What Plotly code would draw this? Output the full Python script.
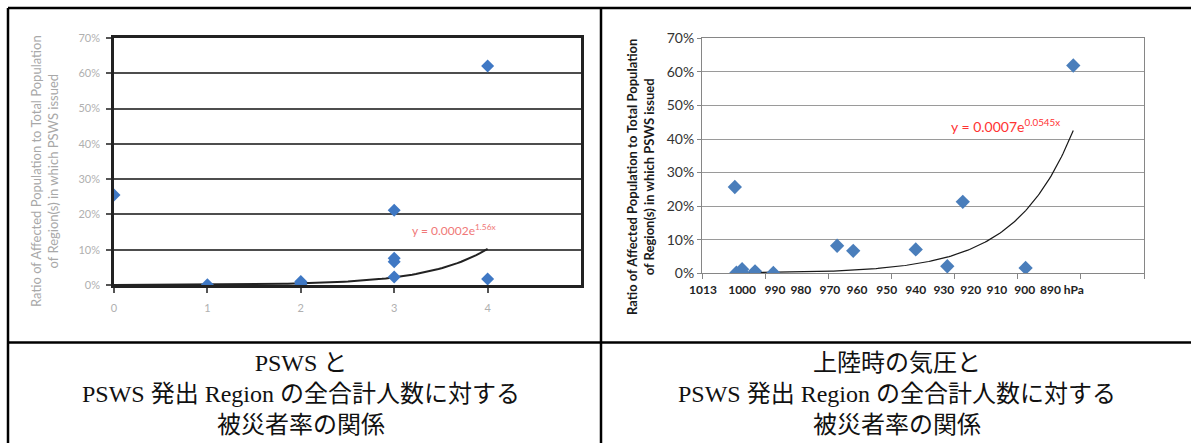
import numpy as np
import plotly.graph_objects as go

W, H = 1191, 443

# ---------------- data ----------------
# Left chart: PSWS level vs ratio of affected population
psws_level = [0, 1, 2, 2, 2, 3, 3, 3, 3, 4, 4]
psws_ratio = [0.255, 0.001, 0.010, 0.005, 0.002, 0.212, 0.076, 0.066, 0.023, 0.621, 0.017]
left_fit_a, left_fit_b = 0.0002, 1.56
left_fit_label = "y = 0.0002e<sup>1.56x</sup>"
left_xticks = [0, 1, 2, 3, 4]
left_yticks = [0, 0.1, 0.2, 0.3, 0.4, 0.5, 0.6, 0.7]

# Right chart: landfall pressure (hPa) vs ratio
pressure_hpa = [1002.6, 1002.1, 1000.3, 1000.1, 996.2, 990.4, 970.2, 965.1, 945.3, 935.3, 930.4, 910.5, 895.4]
pressure_ratio = [0.257, 0.002, 0.012, 0.001, 0.006, 0.001, 0.082, 0.067, 0.071, 0.021, 0.213, 0.016, 0.619]
right_fit_a, right_fit_b = 0.0007, 0.0545
right_fit_label = "y = 0.0007e<sup>0.0545x</sup>"
base_pressure = 1013
right_label_text = ["1013", "1000", "990", "980", "970", "960", "950", "940", "930", "920", "910", "900", "890 hPa"]
right_label_pos = [0.3, 12.7, 23.1, 31.3, 40.5, 49.1, 58.5, 67.7, 76.6, 85.1, 93.4, 102.2, 114.0]

caption_left = "PSWS と<br>PSWS 発出 Region の全合計人数に対する<br>被災者率の関係"
caption_right = "上陸時の気圧と<br>PSWS 発出 Region の全合計人数に対する<br>被災者率の関係"
ytitle = "Ratio of Affected Population to Total Population<br>of Region(s) in which PSWS issued"

# ---------------- helpers ----------------
def px(x):
    return x / W

def py(y):
    return 1 - y / H

fig = go.Figure()

# Left chart
xl = np.linspace(min(psws_level), max(psws_level), 100)
fig.add_trace(go.Scatter(x=xl, y=left_fit_a * np.exp(left_fit_b * xl), mode="lines",
                         line=dict(color="#222222", width=2), xaxis="x", yaxis="y",
                         showlegend=False, hoverinfo="skip"))
fig.add_trace(go.Scatter(x=psws_level, y=psws_ratio, mode="markers",
                         marker=dict(symbol="diamond", size=10, color="#3f78c4"),
                         xaxis="x", yaxis="y", showlegend=False))

# Right chart
x_drop = [base_pressure - p for p in pressure_hpa]
xr = np.linspace(min(x_drop), max(x_drop), 200)
fig.add_trace(go.Scatter(x=xr, y=right_fit_a * np.exp(right_fit_b * xr), mode="lines",
                         line=dict(color="#1a1a1a", width=1.2), xaxis="x2", yaxis="y2",
                         showlegend=False, hoverinfo="skip"))
fig.add_trace(go.Scatter(x=x_drop, y=pressure_ratio, mode="markers",
                         marker=dict(symbol="diamond", size=11, color="#4a7ebb"),
                         xaxis="x2", yaxis="y2", showlegend=False))
# invisible trace to activate the label axis
fig.add_trace(go.Scatter(x=[None], y=[None], xaxis="x3", yaxis="y2", showlegend=False))

left_font = dict(family="Lato, Arial", size=11, color="#b0b0b0")
right_font = dict(family="Lato, Arial", size=14, color="#333333")

fig.update_layout(
    width=W, height=H,
    margin=dict(l=0, r=0, t=0, b=0, autoexpand=False),
    paper_bgcolor="white", plot_bgcolor="white",
    showlegend=False,
    xaxis=dict(domain=[px(114), px(581)], range=[0, 5], tickvals=left_xticks,
               ticks="outside", ticklen=5, tickcolor="#555", tickwidth=2,
               showgrid=False, zeroline=False, showline=True, linecolor="#222",
               linewidth=2.5, mirror=True, tickfont=left_font, anchor="y",
               automargin=False, tickangle=0, ticklabelstandoff=6),
    yaxis=dict(domain=[py(285), py(38)], range=[0, 0.7], tickvals=left_yticks,
               tickformat=".0%", ticks="outside", ticklen=5, tickcolor="#555", tickwidth=2,
               showgrid=True, gridcolor="#4d4d4d", gridwidth=2.2, zeroline=False,
               showline=True, linecolor="#222", linewidth=2.5, mirror=True,
               tickfont=left_font, anchor="x", automargin=False, ticklabelstandoff=4),
    xaxis2=dict(domain=[px(702), px(1144)], range=[0, 140], dtick=20, tick0=0,
                ticks="outside", ticklen=5, tickcolor="#868686", showticklabels=False,
                showgrid=False, zeroline=False, showline=True, linecolor="#868686",
                linewidth=1, mirror=True, anchor="y2", automargin=False),
    xaxis3=dict(overlaying="x2", anchor="y2", side="bottom", range=[0, 140],
                tickvals=right_label_pos, ticktext=right_label_text, ticks="",
                showgrid=False, zeroline=False, showline=False, tickangle=0,
                tickfont=dict(family="Lato, Arial", size=12, color="#222", weight="bold"),
                ticklabelstandoff=8, automargin=False),
    yaxis2=dict(domain=[py(273.3), py(38.3)], range=[0, 0.7], tickvals=left_yticks,
                tickformat=".0%", ticks="outside", ticklen=4, tickcolor="#868686",
                showgrid=True, gridcolor="#9a9a9a", gridwidth=1, zeroline=False,
                showline=True, linecolor="#868686", linewidth=1, mirror=True,
                tickfont=right_font, anchor="x2", automargin=False),
)

annotations = [
    dict(text=ytitle, xref="paper", yref="paper", x=px(44), y=py(171), textangle=-90,
         showarrow=False, font=dict(family="Lato, Arial", size=13, color="#a8a8a8"),
         xanchor="center", yanchor="middle"),
    dict(text=left_fit_label, xref="x", yref="y", x=3.65, y=0.156, showarrow=False,
         font=dict(family="Lato, Arial", size=12, color="#f07878")),
    dict(text=ytitle, xref="paper", yref="paper", x=px(640), y=py(177), textangle=-90,
         showarrow=False, font=dict(family="Lato, Arial", size=13, color="#1a1a1a", weight="bold"),
         xanchor="center", yanchor="middle"),
    dict(text=right_fit_label, xref="x2", yref="y2", x=96.2, y=0.439, showarrow=False,
         font=dict(family="Lato, Arial", size=14, color="#ff3333")),
    dict(text=caption_left, xref="paper", yref="paper", x=px(301), y=py(394), showarrow=False,
         font=dict(family="Liberation Serif, Noto Sans CJK JP", size=24, color="#111"),
         align="center", xanchor="center", yanchor="middle"),
    dict(text=caption_right, xref="paper", yref="paper", x=px(897), y=py(394), showarrow=False,
         font=dict(family="Liberation Serif, Noto Sans CJK JP", size=24, color="#111"),
         align="center", xanchor="center", yanchor="middle"),
]
fig.update_layout(annotations=annotations)

line = dict(color="black", width=2.5)
shapes = [
    dict(type="line", xref="paper", yref="paper", x0=px(8), x1=1, y0=py(8), y1=py(8), line=line),
    dict(type="line", xref="paper", yref="paper", x0=px(8), x1=px(8), y0=py(8), y1=0, line=line),
    dict(type="line", xref="paper", yref="paper", x0=px(601), x1=px(601), y0=py(8), y1=0, line=line),
    dict(type="line", xref="paper", yref="paper", x0=px(8), x1=1, y0=py(342.5), y1=py(342.5), line=line),
]
fig.update_layout(shapes=shapes)

fig.write_html("out.html", config={"displayModeBar": False},
               post_script="document.body.style.margin='0';document.body.style.padding='0';"
                           "document.body.style.overflow='hidden';")
